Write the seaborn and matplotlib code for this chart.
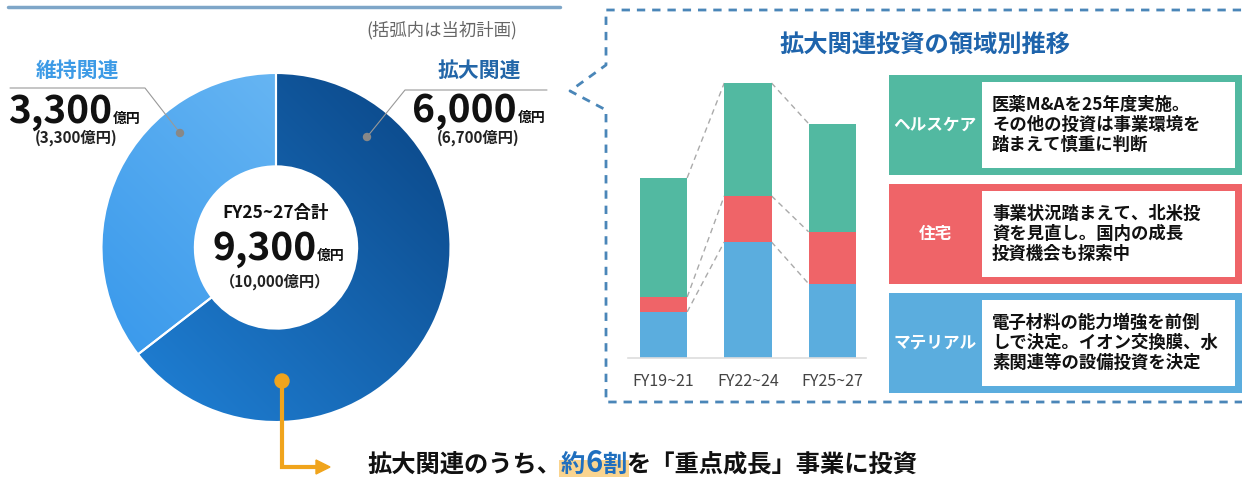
import numpy as np
import matplotlib
matplotlib.use('Agg')
import matplotlib.pyplot as plt
import seaborn as sns
from matplotlib.colors import to_rgb
from matplotlib.patches import Rectangle, Circle

# data
periods = ['FY19~21', 'FY22~24', 'FY25~27']
material = [1180, 2970, 1900]
housing = [380, 1180, 1330]
healthcare = [3050, 2890, 2770]

donut_labels = ['拡大関連', '維持関連']
donut_values = [6000, 3300]
donut_plan = [6700, 3300]
total_value = 9300
total_plan = 10000

segments = ['ヘルスケア', '住宅', 'マテリアル']
notes = ['医薬M&Aを25年度実施。\nその他の投資は事業環境を\n踏まえて慎重に判断',
         '事業状況踏まえて、北米投\n資を見直し。国内の成長\n投資機会も探索中',
         '電子材料の能力増強を前倒\nしで決定。イオン交換膜、水\n素関連等の設備投資を決定']

green = '#52b9a1'
red = '#ef6468'
blue = '#5badde'
seg_colors = [green, red, blue]

sns.set_theme(style='white')
plt.rcParams['font.family'] = ['Noto Sans CJK JP', 'DejaVu Sans']

W, H = 1242, 480
fig = plt.figure(figsize=(W / 100, H / 100), dpi=100)

# donut
axd = fig.add_axes([96 / W, 52.5 / H, 360 / W, 360 / H])
wedges, _ = axd.pie(donut_values, startangle=90, counterclock=False, radius=1,
                    wedgeprops=dict(width=0.535, edgecolor='white', linewidth=1.5, facecolor='none'))
grads = [('#2185dc', '#0a4483'), ('#3194ea', '#78c0f6')]
gx, gy = np.meshgrid(np.linspace(-1, 1, 300), np.linspace(-1, 1, 300))
tt = np.clip((gx + gy + 2) / 4, 0, 1)[..., None]
for w, (c0, c1) in zip(wedges, grads):
    rgb = (1 - tt) * np.array(to_rgb(c0)) + tt * np.array(to_rgb(c1))
    im = axd.imshow(rgb, extent=[-1, 1, -1, 1], origin='lower', zorder=0.5, interpolation='bilinear')
    im.set_clip_path(w)
lim = 180 / 174.5
axd.set_xlim(-lim, lim)
axd.set_ylim(-lim, lim)
axd.axis('off')

# stacked bars
axb = fig.add_axes([628 / W, (H - 358) / H, 238 / W, 288 / H])
cum2 = np.array(material) + np.array(housing)
cum3 = cum2 + np.array(healthcare)
for vals, col in [(cum3, green), (cum2, red), (material, blue)]:
    sns.barplot(x=periods, y=vals, color=col, width=0.56, saturation=1,
                errorbar=None, linewidth=0, ax=axb)
for level in [material, cum2, cum3]:
    for i in range(len(periods) - 1):
        axb.plot([i + 0.28, i + 0.72], [level[i], level[i + 1]], ls=(0, (4, 3)),
                 color='#aaaaaa', lw=1, zorder=0)
axb.set_xlim(-0.421, 2.40)
axb.set_ylim(0, 7373)
axb.set_yticks([])
axb.set_xlabel('')
axb.set_ylabel('')
for s in ['top', 'right', 'left']:
    axb.spines[s].set_visible(False)
axb.spines['bottom'].set_color('#dddddd')
axb.spines['bottom'].set_linewidth(1.2)
axb.tick_params(axis='x', length=0, pad=11, labelsize=11.5, labelcolor='#444444')

# overlay for annotations
ax0 = fig.add_axes([0, 0, 1, 1])
ax0.set_xlim(0, W)
ax0.set_ylim(H, 0)
ax0.axis('off')
renderer = fig.canvas.get_renderer()


def right_edge(t):
    bb = t.get_window_extent(renderer)
    return ax0.transData.inverted().transform((bb.x1, bb.y0))[0]


ax0.plot([8, 560], [7, 7], color='#7ea6c8', lw=2.5)
ax0.text(442, 30, '(括弧内は当初計画)', fontsize=12.5, color='#666666', ha='center', va='center')

# left label
ax0.text(77, 70, donut_labels[1], fontsize=15, weight='bold', color='#3d9be6', ha='center', va='center')
ax0.plot([10, 145, 180], [88, 88, 133], color='#999999', lw=0.8)
ax0.add_patch(Circle((180, 133), 3.5, color='#888888', zorder=5))
t = ax0.text(8, 123, f'{donut_values[1]:,}', fontsize=28, weight='bold', color='#111111', va='baseline')
ax0.text(right_edge(t) + 1, 123, '億円', fontsize=10, weight='bold', color='#111111', va='baseline')
ax0.text(76, 138, f'({donut_plan[1]:,}億円)', fontsize=11, weight='bold', color='#222222', ha='center', va='center')

# right label
ax0.text(479, 70, donut_labels[0], fontsize=15, weight='bold', color='#2366a8', ha='center', va='center')
ax0.plot([547, 405, 367], [90, 90, 137], color='#999999', lw=0.8)
ax0.add_patch(Circle((367, 137), 3.5, color='#888888', zorder=5))
t = ax0.text(412, 122, f'{donut_values[0]:,}', fontsize=28, weight='bold', color='#111111', va='baseline')
ax0.text(right_edge(t) + 1, 122, '億円', fontsize=10, weight='bold', color='#111111', va='baseline')
ax0.text(478, 138, f'({donut_plan[0]:,}億円)', fontsize=11, weight='bold', color='#222222', ha='center', va='center')

# donut center
ax0.text(276, 213, 'FY25~27合計', fontsize=12.5, weight='bold', color='#111111', ha='center', va='center')
t = ax0.text(212, 260, f'{total_value:,}', fontsize=28, weight='bold', color='#111111', va='baseline')
ax0.text(right_edge(t) + 1, 260, '億円', fontsize=10, weight='bold', color='#111111', va='baseline')
ax0.text(275, 282, f'（{total_plan:,}億円）', fontsize=11, weight='bold', color='#222222', ha='center', va='center')

# callout frame
ax0.plot([1250, 606, 606, 570, 606, 606, 1250], [402, 402, 110, 91, 65, 10, 10],
         color='#4a86b8', lw=2, ls=(0, (3, 2.5)))
ax0.text(925, 45, '拡大関連投資の領域別推移', fontsize=17.5, weight='bold', color='#1e64ac',
         ha='center', va='center')

# segment boxes
for top, name, note, col in zip([75, 184, 293], segments, notes, seg_colors):
    ax0.add_patch(Rectangle((889, top), 370, 100, color=col, lw=0))
    ax0.add_patch(Rectangle((982, top + 7), 253, 86, color='white', lw=0))
    ax0.text(935, top + 50, name, fontsize=12, weight='bold', color='white', ha='center', va='center')
    ax0.text(992, top + 50, note, fontsize=12.5, weight='bold', color='#111111', va='center',
             linespacing=1.12)

# bottom message
orange = '#f0a41c'
ax0.add_patch(Circle((282, 381), 7, color=orange, zorder=5))
ax0.plot([282, 282, 318], [381, 467, 467], color=orange, lw=3, solid_joinstyle='miter')
ax0.add_patch(plt.Polygon([[316, 460], [330, 467], [316, 474]], color=orange))

base = 472
t = ax0.text(367, base, '拡大関連のうち、', fontsize=17.5, weight='bold', color='#111111', va='baseline')
x_a = right_edge(t)
t = ax0.text(x_a, base, '約', fontsize=17.5, weight='bold', color='#1f6fbf', va='baseline', zorder=3)
t = ax0.text(right_edge(t), base, '6', fontsize=21, weight='bold', color='#1f6fbf', va='baseline', zorder=3)
t = ax0.text(right_edge(t), base, '割', fontsize=17.5, weight='bold', color='#1f6fbf', va='baseline', zorder=3)
x_b = right_edge(t)
ax0.add_patch(Rectangle((x_a - 2, 460), x_b - x_a + 4, 17, color='#fad48f', lw=0, zorder=1))
ax0.text(x_b, base, 'を「重点成長」事業に投資', fontsize=17.5, weight='bold', color='#111111', va='baseline')

fig.savefig('out.png', dpi=100)
